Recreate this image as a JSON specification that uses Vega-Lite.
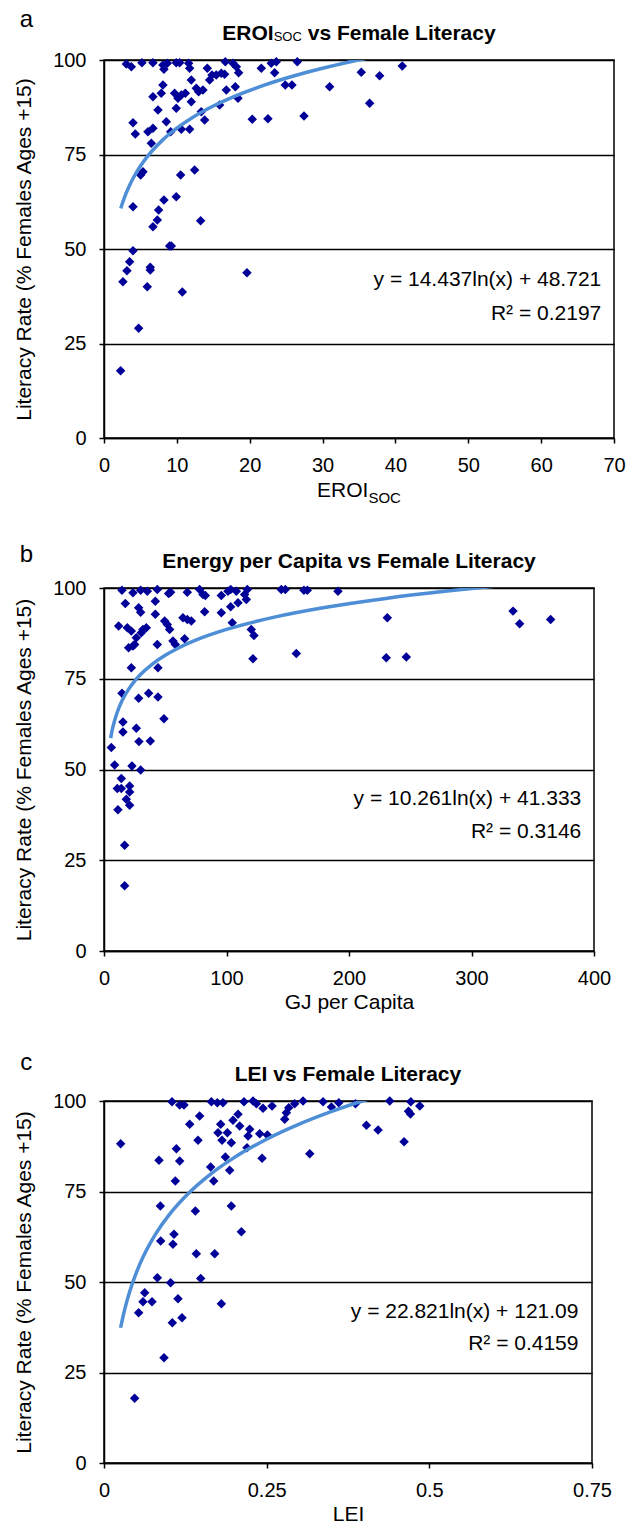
{
 "$schema": "https://vega.github.io/schema/vega-lite/v6.json",
 "background": "white",
 "padding": {"left": 12, "top": 6, "right": 5, "bottom": 5},
 "config": {
  "font": "Liberation Sans",
  "view": {"stroke": "black", "strokeWidth": 1.5},
  "axis": {"domainColor": "black", "domainWidth": 1.5, "tickColor": "black", "tickWidth": 1.5, "tickSize": 5, "labelColor": "black", "labelFontSize": 20, "labelFont": "Liberation Sans", "labelFlush": false, "labelOverlap": false, "labelBound": false, "titleFont": "Liberation Sans", "titleFontSize": 21, "titleFontWeight": "normal", "titleColor": "black", "gridColor": "black", "gridWidth": 1.5, "gridOpacity": 1},
  "text": {"font": "Liberation Sans", "color": "black"}
 },
 "bounds": "flush",
 "spacing": 150,
 "datasets": {
  "a_pts": [
   {"x":3.06,"y":98.94},{"x":3.75,"y":98.24},{"x":5.21,"y":99.3},{"x":6.72,"y":99.3},{"x":8.09,"y":98.68},{"x":8.69,"y":99.12},{"x":8.23,"y":97.53},{"x":9.92,"y":99.3},{"x":10.38,"y":99.3},{"x":11.62,"y":99.12},{"x":11.75,"y":97.8},{"x":11.98,"y":94.71},{"x":14.18,"y":97.8},{"x":16.65,"y":99.56},{"x":17.7,"y":99.12},{"x":18.16,"y":98.24},{"x":18.48,"y":96.65},{"x":21.59,"y":97.8},{"x":22.96,"y":99.12},{"x":23.65,"y":99.56},{"x":23.42,"y":96.65},{"x":26.53,"y":99.56},{"x":35.31,"y":96.74},{"x":37.83,"y":95.86},{"x":40.94,"y":98.41},{"x":36.46,"y":88.54},{"x":30.97,"y":92.95},{"x":27.45,"y":85.19},{"x":22.5,"y":84.48},{"x":20.35,"y":84.3},{"x":24.88,"y":93.39},{"x":25.8,"y":93.39},
   {"x":6.72,"y":90.3},{"x":7.86,"y":91.18},{"x":8.09,"y":93.39},{"x":7.41,"y":86.77},{"x":8.55,"y":83.69},{"x":9.15,"y":81.04},{"x":9.69,"y":91.18},{"x":10.15,"y":89.86},{"x":9.92,"y":87.21},{"x":10.61,"y":90.74},{"x":11.16,"y":91.18},{"x":11.98,"y":88.98},{"x":12.67,"y":92.5},{"x":12.99,"y":91.62},{"x":13.58,"y":92.06},{"x":13.81,"y":84.13},{"x":13.35,"y":86.33},{"x":14.5,"y":94.71},{"x":14.82,"y":96.03},{"x":15.41,"y":96.03},{"x":16.1,"y":96.47},{"x":16.56,"y":96.21},{"x":16.79,"y":92.06},{"x":15.87,"y":88.1},{"x":18.02,"y":92.95},{"x":18.39,"y":89.86},{"x":3.98,"y":83.42},{"x":4.3,"y":80.42},{"x":6.03,"y":81.04},{"x":6.72,"y":81.92},{"x":6.49,"y":77.95},{"x":10.61,"y":81.66},{"x":11.75,"y":81.66},{"x":5.35,"y":70.46},{"x":5.03,"y":69.58},{"x":10.52,"y":69.58},{"x":12.44,"y":70.9},{"x":3.98,"y":61.2},{"x":6.72,"y":55.91},{"x":7.32,"y":57.67},{"x":7.5,"y":60.32},{"x":8.23,"y":62.96},{"x":9.92,"y":63.84},{"x":13.26,"y":57.49},
   {"x":3.98,"y":49.56},{"x":3.52,"y":46.65},{"x":3.15,"y":44.27},{"x":2.6,"y":41.36},{"x":6.35,"y":45.15},{"x":6.35,"y":44.44},{"x":5.94,"y":40.03},{"x":4.75,"y":29.01},{"x":2.28,"y":17.81},{"x":9.01,"y":50.79},{"x":9.24,"y":50.79},{"x":10.75,"y":38.62},{"x":19.62,"y":43.74}
  ],
  "a_fit": [
   {"x":2.3,"y":60.75},{"x":2.6,"y":62.51},{"x":3,"y":64.58},{"x":3.5,"y":66.81},{"x":4,"y":68.73},{"x":5,"y":71.96},{"x":6,"y":74.59},{"x":8,"y":78.74},{"x":10,"y":81.96},{"x":12,"y":84.6},{"x":15,"y":87.82},{"x":18,"y":90.45},{"x":22,"y":93.35},{"x":26,"y":95.76},{"x":30,"y":97.82},{"x":34.9,"y":100.0},{"x":41,"y":102.33}
  ],
  "b_pts": [
   {"x":14.67,"y":99.4},{"x":23.65,"y":98.67},{"x":29.9,"y":99.4},{"x":35.35,"y":99.13},{"x":43.51,"y":99.59},{"x":52.76,"y":98.49},{"x":54.39,"y":98.85},{"x":68.0,"y":98.85},{"x":78.07,"y":99.59},{"x":80.79,"y":98.21},{"x":82.69,"y":97.94},{"x":95.76,"y":97.94},{"x":101.2,"y":99.13},{"x":103.4,"y":99.59},{"x":108.0,"y":99.13},{"x":114.8,"y":98.21},{"x":117.0,"y":99.59},{"x":144.7,"y":99.59},{"x":148.0,"y":99.59},{"x":163.2,"y":99.4},{"x":166.0,"y":99.4},{"x":191.0,"y":99.13},
   {"x":17.39,"y":95.74},{"x":41.88,"y":96.38},{"x":28.27,"y":94.55},{"x":29.9,"y":93.35},{"x":41.88,"y":92.8},{"x":82.15,"y":93.44},{"x":95.76,"y":93.17},{"x":103.4,"y":94.82},{"x":109.4,"y":95.92},{"x":116.2,"y":96.84},
   {"x":11.95,"y":89.5},{"x":19.02,"y":89.04},{"x":22.29,"y":88.12},{"x":31.81,"y":88.58},{"x":34.53,"y":89.04},{"x":30.45,"y":87.67},{"x":26.37,"y":86.29},{"x":20.11,"y":83.54},{"x":23.65,"y":84.0},{"x":25.0,"y":84.46},{"x":43.51,"y":84.46},{"x":49.5,"y":90.88},{"x":51.67,"y":89.96},{"x":53.58,"y":88.58},{"x":56.3,"y":85.37},{"x":58.2,"y":84.46},{"x":64.46,"y":91.79},{"x":68.0,"y":91.33},{"x":71.27,"y":90.88},{"x":65.82,"y":86.02},{"x":104.7,"y":90.42},{"x":120.2,"y":88.58},{"x":122.4,"y":86.93},{"x":121.6,"y":80.51},{"x":157.0,"y":81.98},{"x":231.3,"y":91.79},{"x":230.4,"y":80.79},{"x":246.8,"y":80.97},{"x":333.9,"y":93.63},{"x":339.3,"y":90.14},{"x":364.6,"y":91.33},
   {"x":22.29,"y":78.04},{"x":44.06,"y":78.04},{"x":14.67,"y":70.98},{"x":28.27,"y":69.6},{"x":36.43,"y":70.98},{"x":44.06,"y":69.97},{"x":48.95,"y":64.01},{"x":15.48,"y":63.09},{"x":15.48,"y":60.34},{"x":26.37,"y":61.35},{"x":28.54,"y":57.68},{"x":37.8,"y":57.86},{"x":5.96,"y":56.03},{"x":8.68,"y":51.26},{"x":22.83,"y":50.99},{"x":29.9,"y":49.88},{"x":14.12,"y":47.5},
   {"x":10.86,"y":44.75},{"x":14.12,"y":44.75},{"x":20.93,"y":45.48},{"x":20.93,"y":43.83},{"x":18.2,"y":41.82},{"x":20.93,"y":40.17},{"x":11.4,"y":38.88},{"x":16.84,"y":29.16},{"x":16.84,"y":17.97}
  ],
  "b_fit": [
   {"x":5.4,"y":58.64},{"x":6,"y":59.72},{"x":7,"y":61.3},{"x":8.5,"y":63.29},{"x":10,"y":64.96},{"x":12.5,"y":67.25},{"x":15,"y":69.12},{"x":20,"y":72.07},{"x":25,"y":74.36},{"x":30,"y":76.23},{"x":40,"y":79.18},{"x":50,"y":81.47},{"x":60,"y":83.34},{"x":80,"y":86.3},{"x":100,"y":88.59},{"x":140,"y":92.04},{"x":180,"y":94.62},{"x":230,"y":97.13},{"x":280,"y":99.15},{"x":304,"y":100.0},{"x":365,"y":101.87}
  ],
  "c_pts": [
   {"x":0.1045,"y":99.82},{"x":0.1163,"y":98.9},{"x":0.123,"y":98.9},{"x":0.165,"y":99.82},{"x":0.1742,"y":99.54},{"x":0.1829,"y":99.54},{"x":0.2152,"y":99.82},{"x":0.229,"y":100},{"x":0.2342,"y":99.26},{"x":0.2444,"y":97.98},{"x":0.2583,"y":98.62},{"x":0.2839,"y":98.16},{"x":0.2931,"y":99.26},{"x":0.3059,"y":100},{"x":0.3367,"y":99.82},{"x":0.3495,"y":98.34},{"x":0.3608,"y":99.54},{"x":0.3864,"y":99.26},{"x":0.4392,"y":100},{"x":0.4715,"y":99.82},{"x":0.4853,"y":98.62},{"x":0.468,"y":97.2},{"x":0.471,"y":96.4},
   {"x":0.2803,"y":96.78},{"x":0.2777,"y":94.94},{"x":0.206,"y":96.32},{"x":0.147,"y":95.86},{"x":0.1317,"y":93.56},{"x":0.1793,"y":93.56},{"x":0.2085,"y":93.09},{"x":0.1983,"y":94.66},{"x":0.2239,"y":92.17},{"x":0.1752,"y":91.25},{"x":0.1896,"y":91.25},{"x":0.2393,"y":90.97},{"x":0.2511,"y":90.61},{"x":0.2214,"y":90.33},{"x":0.1445,"y":89.13},{"x":0.1814,"y":89.13},{"x":0.1957,"y":88.49},{"x":0.0256,"y":88.21},{"x":0.1112,"y":86.83},{"x":0.0845,"y":83.61},{"x":0.1163,"y":83.43},{"x":0.1865,"y":84.53},{"x":0.2198,"y":87.11},{"x":0.2429,"y":84.16},{"x":0.3162,"y":85.45},{"x":0.4033,"y":93.28},{"x":0.4212,"y":91.99},{"x":0.4612,"y":88.77},{"x":0.1639,"y":81.77},{"x":0.1932,"y":80.85},{"x":0.1096,"y":77.9},{"x":0.1686,"y":77.9},
   {"x":0.0866,"y":71.0},{"x":0.1404,"y":69.61},{"x":0.1957,"y":71.0},{"x":0.2111,"y":63.9},{"x":0.0871,"y":61.33},{"x":0.1076,"y":63.17},{"x":0.106,"y":60.41},{"x":0.1419,"y":57.83},{"x":0.1701,"y":57.83},
   {"x":0.082,"y":51.2},{"x":0.1024,"y":49.8},{"x":0.1486,"y":51.0},{"x":0.0625,"y":47.05},{"x":0.0599,"y":44.57},{"x":0.0738,"y":44.54},{"x":0.0532,"y":41.53},{"x":0.1137,"y":45.4},{"x":0.105,"y":38.77},{"x":0.1199,"y":40.15},{"x":0.1804,"y":44.01},{"x":0.0922,"y":29.1},{"x":0.0471,"y":17.86}
  ],
  "c_fit": [
   {"x":0.0255,"y":37.36},{"x":0.028,"y":39.49},{"x":0.03,"y":41.07},{"x":0.035,"y":44.58},{"x":0.04,"y":47.63},{"x":0.05,"y":52.72},{"x":0.06,"y":56.89},{"x":0.07,"y":60.4},{"x":0.08,"y":63.45},{"x":0.1,"y":68.54},{"x":0.13,"y":74.53},{"x":0.16,"y":79.27},{"x":0.2,"y":84.36},{"x":0.25,"y":89.45},{"x":0.3,"y":93.61},{"x":0.35,"y":97.13},{"x":0.397,"y":100.0},{"x":0.48,"y":104.34}
  ]
 },
 "vconcat": [
  {
   "width": 510, "height": 378,
   "layer": [
    {"data": {"name": "a_pts"},
     "mark": {"type": "point", "shape": "diamond", "filled": true, "size": 90, "color": "#000099", "opacity": 1},
     "encoding": {
      "x": {"field": "x", "type": "quantitative", "scale": {"domain": [0, 70], "nice": false, "zero": false}, "axis": {"values": [0,10,20,30,40,50,60,70], "grid": false, "title": null, "labelPadding": 12}},
      "y": {"field": "y", "type": "quantitative", "scale": {"domain": [0, 100], "nice": false}, "axis": {"values": [0,25,50,75,100], "grid": true, "title": "Literacy Rate  (% Females Ages +15)", "labelPadding": 13, "titlePadding": 18}}
     }},
    {"data": {"name": "a_fit"},
     "mark": {"type": "line", "clip": true, "color": "#4d8ed6", "strokeWidth": 3.5, "interpolate": "monotone"},
     "encoding": {"x": {"field": "x", "type": "quantitative"}, "y": {"field": "y", "type": "quantitative"}}},
    {"data": {"values": [{}]}, "mark": {"type": "text", "text": "a", "fontSize": 24, "align": "center", "baseline": "alphabetic"}, "encoding": {"x": {"datum": -10.66}, "y": {"datum": 108.8}}},
    {"data": {"values": [{}]}, "mark": {"type": "text", "text": "EROI", "fontSize": 21, "fontWeight": "bold", "align": "right", "baseline": "alphabetic"}, "encoding": {"x": {"datum": 23.29}, "y": {"datum": 105.4}}},
    {"data": {"values": [{}]}, "mark": {"type": "text", "text": "SOC", "fontSize": 13, "align": "left", "baseline": "alphabetic"}, "encoding": {"x": {"datum": 23.29}, "y": {"datum": 105.0}}},
    {"data": {"values": [{}]}, "mark": {"type": "text", "text": "vs Female Literacy", "fontSize": 21, "fontWeight": "bold", "align": "left", "baseline": "alphabetic"}, "encoding": {"x": {"datum": 27.96}, "y": {"datum": 105.4}}},
    {"data": {"values": [{}]}, "mark": {"type": "text", "text": "EROI", "fontSize": 21, "align": "right", "baseline": "alphabetic"}, "encoding": {"x": {"datum": 36.29}, "y": {"datum": -15.6}}},
    {"data": {"values": [{}]}, "mark": {"type": "text", "text": "SOC", "fontSize": 15, "align": "left", "baseline": "alphabetic"}, "encoding": {"x": {"datum": 36.29}, "y": {"datum": -17.2}}},
    {"data": {"values": [{}]}, "mark": {"type": "text", "text": "y = 14.437ln(x) + 48.721", "fontSize": 21, "align": "right", "baseline": "alphabetic"}, "encoding": {"x": {"datum": 68.25}, "y": {"datum": 40.1}}},
    {"data": {"values": [{}]}, "mark": {"type": "text", "text": "R² = 0.2197", "fontSize": 21, "align": "right", "baseline": "alphabetic"}, "encoding": {"x": {"datum": 68.25}, "y": {"datum": 31.1}}}
   ]
  },
  {
   "width": 490, "height": 363,
   "layer": [
    {"data": {"name": "b_pts"},
     "mark": {"type": "point", "shape": "diamond", "filled": true, "size": 90, "color": "#000099", "opacity": 1},
     "encoding": {
      "x": {"field": "x", "type": "quantitative", "scale": {"domain": [0, 400], "nice": false, "zero": false}, "axis": {"values": [0,100,200,300,400], "grid": false, "title": "GJ per Capita", "labelPadding": 12, "titlePadding": 3}},
      "y": {"field": "y", "type": "quantitative", "scale": {"domain": [0, 100], "nice": false}, "axis": {"values": [0,25,50,75,100], "grid": true, "title": "Literacy Rate (% Females Ages +15)", "labelPadding": 13, "titlePadding": 18}}
     }},
    {"data": {"name": "b_fit"},
     "mark": {"type": "line", "clip": true, "color": "#4d8ed6", "strokeWidth": 3.5, "interpolate": "monotone"},
     "encoding": {"x": {"field": "x", "type": "quantitative"}, "y": {"field": "y", "type": "quantitative"}}},
    {"data": {"values": [{}]}, "mark": {"type": "text", "text": "b", "fontSize": 24, "align": "center", "baseline": "alphabetic"}, "encoding": {"x": {"datum": -63.4}, "y": {"datum": 107.2}}},
    {"data": {"values": [{}]}, "mark": {"type": "text", "text": "Energy per Capita vs Female Literacy", "fontSize": 21, "fontWeight": "bold", "align": "center", "baseline": "alphabetic"}, "encoding": {"x": {"datum": 200}, "y": {"datum": 105.4}}},
    {"data": {"values": [{}]}, "mark": {"type": "text", "text": "y = 10.261ln(x) + 41.333", "fontSize": 21, "align": "right", "baseline": "alphabetic"}, "encoding": {"x": {"datum": 389.6}, "y": {"datum": 40.1}}},
    {"data": {"values": [{}]}, "mark": {"type": "text", "text": "R² = 0.3146", "fontSize": 21, "align": "right", "baseline": "alphabetic"}, "encoding": {"x": {"datum": 389.6}, "y": {"datum": 31.1}}}
   ]
  },
  {
   "width": 488, "height": 362,
   "layer": [
    {"data": {"name": "c_pts"},
     "mark": {"type": "point", "shape": "diamond", "filled": true, "size": 90, "color": "#000099", "opacity": 1},
     "encoding": {
      "x": {"field": "x", "type": "quantitative", "scale": {"domain": [0, 0.75], "nice": false, "zero": false}, "axis": {"values": [0,0.25,0.5,0.75], "format": "~g", "grid": false, "title": "LEI", "labelPadding": 12, "titlePadding": 3}},
      "y": {"field": "y", "type": "quantitative", "scale": {"domain": [0, 100], "nice": false}, "axis": {"values": [0,25,50,75,100], "grid": true, "title": "Literacy Rate  (% Females Ages +15)", "labelPadding": 13, "titlePadding": 18}}
     }},
    {"data": {"name": "c_fit"},
     "mark": {"type": "line", "clip": true, "color": "#4d8ed6", "strokeWidth": 3.5, "interpolate": "monotone"},
     "encoding": {"x": {"field": "x", "type": "quantitative"}, "y": {"field": "y", "type": "quantitative"}}},
    {"data": {"values": [{}]}, "mark": {"type": "text", "text": "c", "fontSize": 24, "align": "center", "baseline": "alphabetic"}, "encoding": {"x": {"datum": -0.1195}, "y": {"datum": 108.6}}},
    {"data": {"values": [{}]}, "mark": {"type": "text", "text": "LEI vs Female Literacy", "fontSize": 21, "fontWeight": "bold", "align": "center", "baseline": "alphabetic"}, "encoding": {"x": {"datum": 0.375}, "y": {"datum": 105.4}}},
    {"data": {"values": [{}]}, "mark": {"type": "text", "text": "y = 22.821ln(x) + 121.09", "fontSize": 21, "align": "right", "baseline": "alphabetic"}, "encoding": {"x": {"datum": 0.7292}, "y": {"datum": 40.1}}},
    {"data": {"values": [{}]}, "mark": {"type": "text", "text": "R² = 0.4159", "fontSize": 21, "align": "right", "baseline": "alphabetic"}, "encoding": {"x": {"datum": 0.7292}, "y": {"datum": 31.1}}}
   ]
  }
 ]
}
